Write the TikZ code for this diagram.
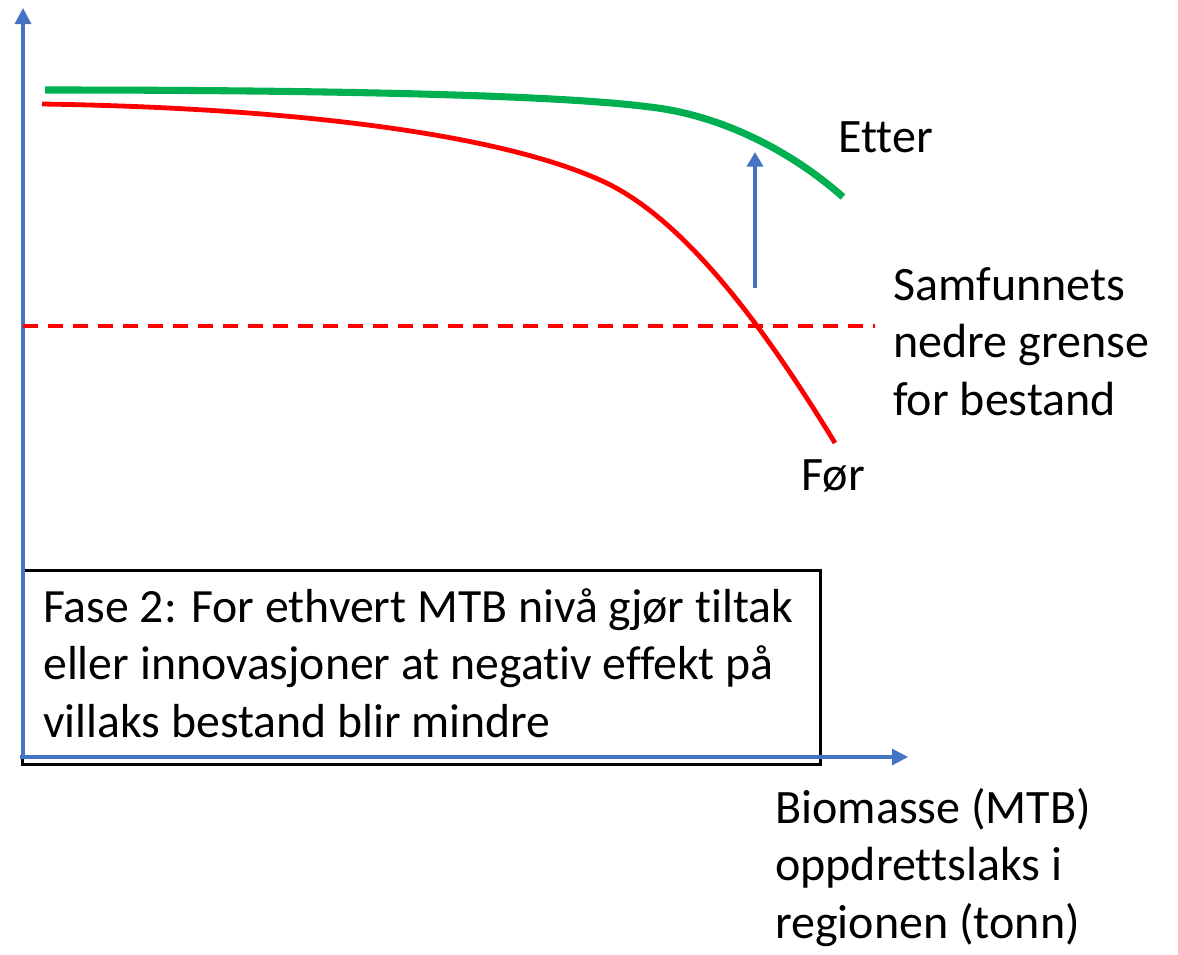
\documentclass[tikz,border=0pt]{standalone}
\usepackage{fontspec}
\setmainfont{Carlito}[Ligatures={NoCommon}]
\usetikzlibrary{arrows.meta}
\definecolor{axisblue}{HTML}{4472C4}
\definecolor{curvegreen}{HTML}{00B050}
\definecolor{curvered}{HTML}{FF0000}
\tikzset{
  axis/.style={draw=axisblue, line width=2.4pt, -{Triangle[length=12pt,width=12pt]}},
  shift arrow/.style={draw=axisblue, line width=3.4pt, -{Triangle[length=11pt,width=12pt]}},
  label/.style={inner sep=0pt, anchor=base west, align=left,
    font=\fontsize{36}{43}\selectfont},
  boxtext/.style={inner sep=0pt, anchor=base west, align=left,
    font=\fontsize{35.8}{43}\selectfont},
}
\begin{document}
\begin{tikzpicture}[x=0.75pt, y=-0.75pt]
  \useasboundingbox (0,0) rectangle (1178,954);

  % explanation box (drawn first so the axes lie on top)
  \node[draw=black, line width=2pt, fill=white, minimum width=798*0.75pt,
        minimum height=194*0.75pt, anchor=north west, inner sep=0pt]
        (box) at (21,569) {};
  % anchored at the baseline of the last line
  \node[boxtext] (phase) at (43,737)
    {Fase 2: For ethvert MTB nivå gjør tiltak\\
     eller innovasjoner at negativ effekt på\\
     villaks bestand blir mindre};

  % axes
  \coordinate (origin) at (23,757);
  \coordinate (ytip) at (23,8);
  \coordinate (xtip) at (908,757);
  \coordinate (xstart) at (20,757);
  \draw[axis] (origin) -- (ytip);
  \draw[axis] (xstart) -- (xtip);

  % lower limit for the stock
  \coordinate (lim1) at (23,326);
  \coordinate (lim2) at (875,326);
  \draw[curvered, line width=2.4pt, dash pattern=on 11.25pt off 7.5pt] (lim1) -- (lim2);

  % curve after the measures
  \coordinate (g0) at (45,90);
  \coordinate (g1) at (650,107);
  \coordinate (g2) at (843,197);
  \draw[curvegreen, line width=5.3pt]
    (g0) .. controls (300,90) and (550,94) .. (g1)
         .. controls (720,115) and (790,150) .. (g2);

  % curve before the measures
  \coordinate (r0) at (42,104);
  \coordinate (r1) at (600,180);
  \coordinate (r2) at (835,443);
  \draw[curvered, line width=3.6pt]
    (r0) .. controls (300,108) and (500,135) .. (r1)
         .. controls (680,215) and (760,320) .. (r2);

  % shift from before to after
  \coordinate (sh1) at (755,288);
  \coordinate (sh2) at (755,152);
  \draw[shift arrow] (sh1) -- (sh2);

  % labels (multi-line ones anchored at the last baseline)
  \node[label] (etter) at (838,152) {Etter};
  \node[label] (foer) at (801,490) {Før};
  \node[label] (limit) at (893,415) {Samfunnets\\nedre grense\\for bestand};
  \node[label] (xlabel) at (775,938) {Biomasse (MTB)\\oppdrettslaks i\\regionen (tonn)};
\end{tikzpicture}
\end{document}
